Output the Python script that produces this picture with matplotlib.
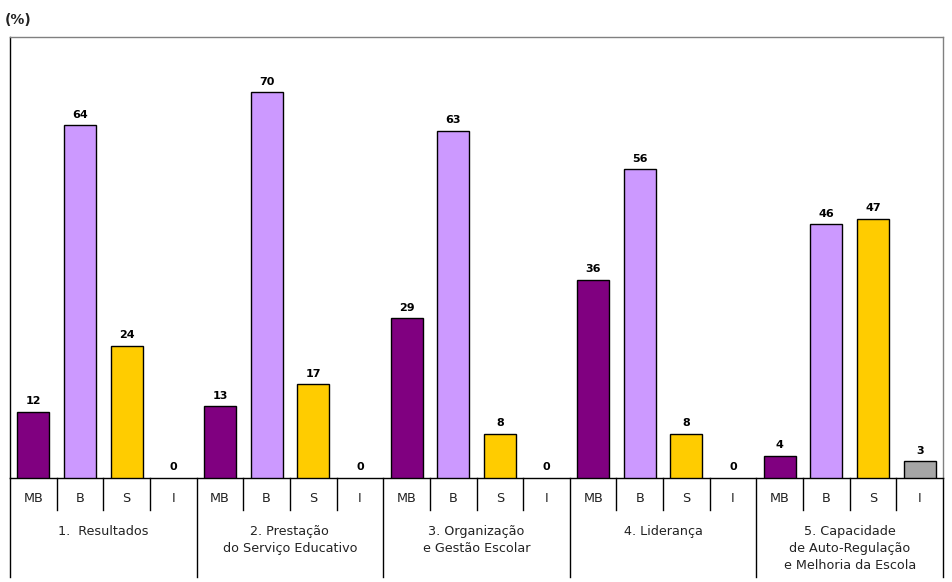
import matplotlib
matplotlib.use("Agg")
import matplotlib.pyplot as plt
from matplotlib.transforms import blended_transform_factory

groups = ["1.  Resultados", "2. Prestação\ndo Serviço Educativo", "3. Organização\ne Gestão Escolar",
          "4. Liderança", "5. Capacidade\nde Auto-Regulação\ne Melhoria da Escola"]
levels = ["MB", "B", "S", "I"]
values = [
    [12, 64, 24, 0],
    [13, 70, 17, 0],
    [29, 63, 8, 0],
    [36, 56, 8, 0],
    [4, 46, 47, 3],
]
colors = ["#800080", "#CC99FF", "#FFCC00", "#A6A6A6"]

W, H = 953, 582
fig = plt.figure(figsize=(W / 100, H / 100), dpi=100)
L, R, T, B = 10, 943, 37, 478
ax = fig.add_axes([L / W, 1 - B / H, (R - L) / W, (B - T) / H])

n = len(levels)
for gi, gv in enumerate(values):
    for li, v in enumerate(gv):
        x = gi * n + li
        if v > 0:
            ax.bar(x, v, width=0.686, color=colors[li], edgecolor="black", linewidth=1, zorder=3)
        ax.annotate(str(v), (x, v), xytext=(0, 4), textcoords="offset points",
                    ha="center", va="bottom", fontsize=8, fontweight="bold", color="black")

total = len(groups) * n
ax.set_xlim(-0.5, total - 0.5)
ax.set_ylim(0, 80)
ax.set_xticks([])
ax.set_yticks([])
for s in ["top", "right"]:
    ax.spines[s].set_color("#808080")
ax.spines["left"].set_color("black")
ax.spines["bottom"].set_color("black")
for s in ax.spines.values():
    s.set_linewidth(1)

tr = blended_transform_factory(ax.transData, ax.transAxes)
axh = B - T
y_sub = -(510 - B) / axh
y_grp = -(577 - B) / axh
for k in range(total + 1):
    x = k - 0.5
    yb = y_grp if k % n == 0 else y_sub
    ax.plot([x, x], [0, yb], transform=tr, color="black", lw=1, clip_on=False)

y_lvl = -(499 - B) / axh
for gi in range(len(groups)):
    for li, lv in enumerate(levels):
        ax.text(gi * n + li, y_lvl, lv, transform=tr, ha="center", va="center",
                fontsize=9.2, color="#222222")
    ax.text(gi * n + (n - 1) / 2, -(525 - B) / axh, groups[gi], transform=tr,
            ha="center", va="top", fontsize=9.2, color="#222222", linespacing=1.42)

fig.text(5 / W, 1 - 20 / H, "(%)", ha="left", va="center", fontsize=10,
         fontweight="bold", color="#222222")

fig.savefig("out.png", dpi=100)
